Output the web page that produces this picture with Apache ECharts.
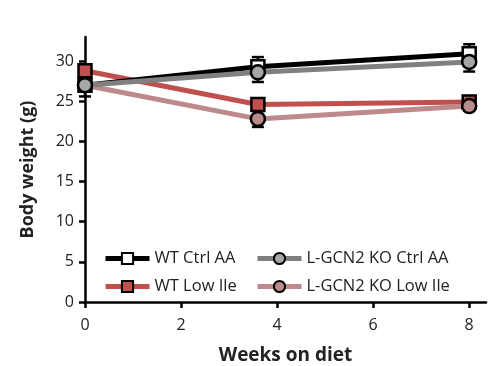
<!DOCTYPE html>
<html><head><meta charset="utf-8">
<script src="https://cdn.jsdelivr.net/npm/echarts@6/dist/echarts.min.js"></script>
<style>html,body{margin:0;padding:0;background:#fff}#c{width:488px;height:366px}</style>
</head><body><div id="c"></div>
<script>
const weeks = [0, 3.6, 8];
const wtCtrl = [27.0, 29.3, 30.9];
const wtCtrlErr = [1.4, 1.2, 1.2];
const koCtrl = [27.0, 28.6, 29.9];
const koCtrlErr = [0.8, 1.2, 1.2];
const wtLow = [28.8, 24.6, 24.9];
const wtLowErr = [0.6, 0.4, 0.3];
const koLow = [27.0, 22.8, 24.4];
const koLowErr = [0.5, 1.0, 0.5];
const names = ['WT Ctrl AA', 'WT Low Ile', 'L-GCN2 KO Ctrl AA', 'L-GCN2 KO Low Ile'];
const font = 'Open Sans';

function pts(v){ return weeks.map((w,i)=>[w, v[i]]); }
function errSeries(v, e, z){
  return {
    type:'custom', silent:true, z:z,
    data: weeks.map((w,i)=>[w, v[i]-e[i], v[i]+e[i]]),
    renderItem:(params, api)=>{
      const lo = api.coord([api.value(0), api.value(1)]);
      const hi = api.coord([api.value(0), api.value(2)]);
      const cw = 6;
      const st = {stroke:'#000', lineWidth:2.5};
      return {type:'group', children:[
        {type:'line', shape:{x1:lo[0],y1:lo[1],x2:hi[0],y2:hi[1]}, style:st},
        {type:'line', shape:{x1:lo[0]-cw,y1:lo[1],x2:lo[0]+cw,y2:lo[1]}, style:st},
        {type:'line', shape:{x1:hi[0]-cw,y1:hi[1],x2:hi[0]+cw,y2:hi[1]}, style:st}
      ]};
    }
  };
}
function lineSeries(name, v, color, sym, fill, z){
  return {
    name, type:'line', data: pts(v), z:z,
    symbol: sym, symbolSize: sym==='rect'?13:14, showAllSymbol:true,
    lineStyle:{color, width:5},
    itemStyle:{color: fill, borderColor:'#000', borderWidth:2.5},
    color: color
  };
}
const legendBase = {orient:'vertical', top:245, itemWidth:44, itemHeight:14, itemGap:11,
  lineStyle:{width:5}, textStyle:{fontFamily:font, fontSize:16.5, color:'#222'}};
const chart = echarts.init(document.getElementById('c'), null, {renderer:'canvas'});
chart.setOption({
  animation:false,
  backgroundColor:'#fff',
  grid:{left:85, right:2, top:37, bottom:64, outerBoundsMode:'none', containLabel:false},
  xAxis:{type:'value', min:0, max:8.35, interval:2,
    name:'Weeks on diet', nameLocation:'middle', nameGap:44,
    nameTextStyle:{fontFamily:font, fontSize:19, fontWeight:'bold', color:'#222'},
    axisLine:{lineStyle:{color:'#000', width:2.5}},
    axisTick:{show:true, length:6, lineStyle:{color:'#000', width:2.5}},
    axisLabel:{fontFamily:font, fontSize:16, color:'#222', margin:15, showMaxLabel:false,
      formatter:v=> (v%2===0? String(v):'')},
    splitLine:{show:false}},
  yAxis:{type:'value', min:0, max:33, interval:5,
    name:'Body weight (g)', nameLocation:'middle', nameGap:48, nameRotate:90,
    nameTextStyle:{fontFamily:font, fontSize:18, fontWeight:'bold', color:'#222'},
    axisLine:{lineStyle:{color:'#000', width:2.5}},
    axisTick:{show:true, length:6, lineStyle:{color:'#000', width:2.5}},
    axisLabel:{fontFamily:font, fontSize:16, color:'#222', margin:11, showMaxLabel:false,
      formatter:v=> (v%5===0? String(v):'')},
    splitLine:{show:false}},
  legend:[
    Object.assign({data:[names[0], names[1]], left:98}, legendBase),
    Object.assign({data:[names[2], names[3]], left:250}, legendBase)
  ],
  series:[
    errSeries(wtCtrl, wtCtrlErr, 1),
    errSeries(koCtrl, koCtrlErr, 1),
    errSeries(wtLow, wtLowErr, 1),
    errSeries(koLow, koLowErr, 1),
    lineSeries(names[1], wtLow, '#c0504d', 'rect', '#c0504d', 3),
    lineSeries(names[3], koLow, '#bc8a8a', 'circle', '#b98b8b', 3),
    lineSeries(names[0], wtCtrl, '#000000', 'rect', '#ffffff', 4),
    lineSeries(names[2], koCtrl, '#808080', 'circle', '#a6a6a6', 5)
  ]
});
</script></body></html>
